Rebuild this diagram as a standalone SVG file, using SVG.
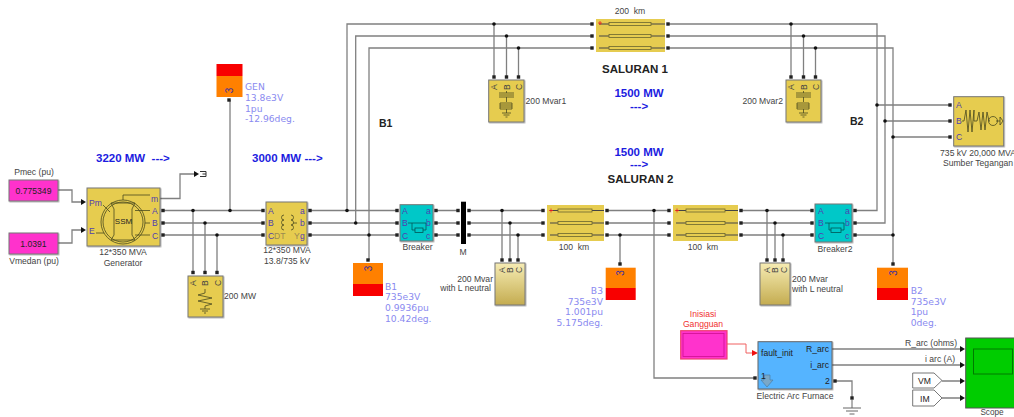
<svg xmlns="http://www.w3.org/2000/svg" width="1014" height="417" viewBox="0 0 1014 417">
<style>
text{font-family:"Liberation Sans",Arial,sans-serif;font-size:8.6px;fill:#444}
.m{text-anchor:middle}.e{text-anchor:end}
.bk{fill:#222}
.mw{font-size:11.5px;font-weight:bold;fill:#1c1ce0;white-space:pre}
.ttl{font-size:11.5px;font-weight:bold;fill:#222}
.bus{font-family:"DejaVu Sans",sans-serif;font-size:9.2px;fill:#8a8af0}
.pn{font-size:8.6px;fill:#4a4a4a}
.pu{fill:#5040b0}
.three{font-size:10px;fill:#4030a0;text-anchor:middle}
.w{fill:none;stroke:#808080;stroke-width:1.3}
.y{fill:#e6cc50;stroke:#777;stroke-width:1;filter:url(#sh)}
.c{fill:#00c8c8;stroke:#777;stroke-width:1;filter:url(#sh)}
.ln{fill:#e6cc50}
.n{fill:#ff33cc;stroke:#777;stroke-width:1;filter:url(#sh)}
.lg{fill:url(#g);stroke:#777;stroke-width:1;filter:url(#sh)}
.ic{fill:none;stroke:#4a4a20;stroke-width:.8}
</style>
<defs>
<filter id="sh" x="-10%" y="-10%" width="125%" height="125%"><feDropShadow dx="0.8" dy="0.8" stdDeviation="0.5" flood-color="#000" flood-opacity="0.35"/></filter>
<linearGradient id="g" x1="0" y1="0" x2="0" y2="1"><stop offset="0" stop-color="#f6ecb4"/><stop offset="1" stop-color="#c4ac50"/></linearGradient>
<rect id="p" x="-1.7" y="-1.7" width="3.4" height="3.4" fill="#222"/>
<circle id="o" r="1.8" fill="#111"/>
<path id="a" d="M-5-3 L0 0 L-5 3Z" fill="#111"/>
</defs>

<g id="connectors">
<path class="w" d="M58 190H72V202H81M58 243H72V230H81M160 198.500H180V174H194"/>
<path class="w" d="M163 210.500H263M163 223H263M163 235H263M193 210.500V272M205 223V272M217 235V272M230 100V210.500"/>
<path class="w" d="M310 210.500H397M310 223H397M310 235H397M347 210.500V24H592M355.700 223V36H592M369 235V48H592M369 235V260M436 210.500H458M436 223H458M436 235H458"/>
<path class="w" d="M469 210.500H543M469 223H543M469 235H543M502 210.500V260M510 223V260M518 235V260M607 210.500H669M607 223H669M607 235H669M620 235V264M654 210.500V378H755"/>
<path class="w" d="M741 210.500H812M741 223H812M741 235H812M767 210.500V260M775 223V260M783 235V260"/>
<path class="w" d="M668 24H877V210.500H855M668 36H885V223H855M668 48H893V235H855M893 235V264M877 105H950M885 121H950M893 137H950M494 24V77M506.500 36V77M518.500 48V77M791 24V77M803.500 36V77M815.500 48V77"/>
<path fill="none" stroke="#f06060" stroke-width="1" d="M727 344H746V353H752"/>
<path class="w" d="M832 349H960M832 365H960M942 381H960M942 398H960M836 381H852V398"/>
<g>
<use href="#a" x="86" y="202"/><use href="#a" x="86" y="230"/><use href="#a" x="199" y="174"/>
<use href="#a" x="965" y="349"/><use href="#a" x="965" y="365"/><use href="#a" x="965" y="381"/><use href="#a" x="965" y="398"/>
<path d="M752 350 L758 353 L752 356Z" fill="#f01010"/>
</g>
<g>
<use href="#o" x="193" y="210.500"/><use href="#o" x="205" y="223"/><use href="#o" x="217" y="235"/><use href="#o" x="230" y="210.500"/>
<use href="#o" x="347" y="210.500"/><use href="#o" x="355.700" y="223"/><use href="#o" x="369" y="235"/>
<use href="#o" x="502" y="210.500"/><use href="#o" x="510" y="223"/><use href="#o" x="518" y="235"/>
<use href="#o" x="620" y="235"/><use href="#o" x="654" y="210.500"/>
<use href="#o" x="767" y="210.500"/><use href="#o" x="775" y="223"/><use href="#o" x="783" y="235"/>
<use href="#o" x="893" y="235"/><use href="#o" x="877" y="105"/><use href="#o" x="885" y="121"/><use href="#o" x="893" y="137"/>
<use href="#o" x="494" y="24"/><use href="#o" x="506.500" y="36"/><use href="#o" x="518.500" y="48"/>
<use href="#o" x="791" y="24"/><use href="#o" x="803.500" y="36"/><use href="#o" x="815.500" y="48"/>
</g>
</g>

<g id="pmec"><rect class="n" x="9" y="180" width="49" height="21"/><text class="m bk" x="33.500" y="193.500">0.775349</text><text class="m" x="34" y="175">Pmec (pu)</text></g>
<g id="vmedan"><rect class="n" x="9" y="233" width="49" height="21"/><text class="m bk" x="33.500" y="246.500">1.0391</text><text class="m" x="34" y="264">Vmedan (pu)</text></g>

<g id="generator">
<rect class="y" x="87" y="188" width="73" height="58"/>
<circle class="ic" cx="123" cy="222" r="22"/><circle class="ic" cx="123" cy="222" r="20"/>
<path class="ic" d="M111 203 H135 L132 209 V235 L135 240 H111 L114 235 V209Z"/>
<path class="ic" d="M123 200V195H150M135 210.500H150M145 223H150M135 235H150M103 205L110 212M96 233H104"/>
<text class="m bk" x="123.500" y="224" style="font-size:8px">SSM</text>
<text class="pn pu" x="89" y="206">Pm</text><text class="pn pu" x="89" y="234">E</text>
<text class="pn pu" x="151" y="201.500">m</text><text class="pn pu" x="152" y="214">A</text><text class="pn pu" x="152" y="226">B</text><text class="pn pu" x="152" y="238.500">C</text>
<use href="#p" x="163" y="210.500"/><use href="#p" x="163" y="223"/><use href="#p" x="163" y="235"/>
<text class="m" x="123" y="255">12*350 MVA</text><text class="m" x="123" y="266">Generator</text>
</g>

<g id="m-goto"><path d="M200 171.500H206V176.500H200M202.500 174H206" fill="none" stroke="#333" stroke-width="1"/></g>

<g id="load-200mw">
<rect class="y" x="188" y="276" width="35" height="41"/>
<g class="pn"><text transform="translate(196,286) rotate(-90)">A</text><text transform="translate(208,286) rotate(-90)">B</text><text transform="translate(220.500,286) rotate(-90)">C</text></g>
<path class="ic" d="M205 289V293L198 295L212 298L198 301L212 304L205 306V309M200 309H210M202 311H208M204 313H206"/>
<use href="#p" x="193" y="272.500"/><use href="#p" x="205" y="272.500"/><use href="#p" x="217" y="272.500"/>
<text x="224" y="299">200 MW</text>
</g>

<g id="gen-bus">
<rect x="216.500" y="64" width="26" height="12" fill="#f80000"/><rect x="216.500" y="76" width="26" height="21" fill="#ff8000"/>
<text class="three" transform="translate(232.500,90.500) rotate(-90)">3</text>
<use href="#p" x="229" y="100"/>
<text class="bus" x="245" y="90">GEN</text><text class="bus" x="245" y="101">13.8e3V</text><text class="bus" x="245" y="112">1pu</text><text class="bus" x="245" y="122">-12.96deg.</text>
</g>

<g id="transformer">
<rect class="y" x="266" y="202" width="41" height="43"/>
<path class="ic" d="M284 215a2.500 2.500 0 0 0 0 5a2.500 2.500 0 0 0 0 5a2.500 2.500 0 0 0 0 5M291 215a2.500 2.500 0 0 1 0 5a2.500 2.500 0 0 1 0 5a2.500 2.500 0 0 1 0 5M293 223H297"/>
<text class="pn pu" x="268" y="214">A</text><text class="pn pu" x="268" y="226">B</text><text class="pn pu" x="268" y="238.500">C</text>
<text class="pn" x="274" y="238.500" style="fill:#9a8a50">DT</text><text class="pn" x="294" y="238.500" style="fill:#9a8a50">Y</text>
<text class="pn pu" x="300" y="214">a</text><text class="pn pu" x="300" y="226">b</text><text class="pn pu" x="300" y="238.500">g</text>
<use href="#p" x="263" y="210.500"/><use href="#p" x="263" y="223"/><use href="#p" x="263" y="235"/><use href="#p" x="310" y="210.500"/><use href="#p" x="310" y="223"/><use href="#p" x="310" y="235"/>
<text class="m" x="287" y="253">12*350 MVA</text><text class="m" x="287" y="264">13.8/735 kV</text>
</g>

<g id="breaker">
<rect class="c" x="400" y="204.700" width="33" height="36.300"/>
<path class="ic" d="M408 223H412V230H415M423 230H426V223M412 223H426" style="stroke:#055"/><rect class="ic" x="415" y="228" width="8" height="4.500" style="stroke:#055"/>
<text class="pn pu" x="402" y="214">A</text><text class="pn pu" x="402" y="226">B</text><text class="pn pu" x="402" y="238.500">C</text><text class="pn pu" x="426" y="214">a</text><text class="pn pu" x="426" y="226">b</text><text class="pn pu" x="426" y="238.500">c</text>
<use href="#p" x="397" y="210.500"/><use href="#p" x="397" y="223"/><use href="#p" x="397" y="235"/><use href="#p" x="436" y="210.500"/><use href="#p" x="436" y="223"/><use href="#p" x="436" y="235"/>
<text class="m" x="417.500" y="250">Breaker</text>
</g>

<g id="measure-m">
<rect x="461" y="201.700" width="5" height="42.300" fill="#000"/>
<use href="#p" x="458" y="210.500"/><use href="#p" x="458" y="223"/><use href="#p" x="458" y="235"/><use href="#p" x="469" y="210.500"/><use href="#p" x="469" y="223"/><use href="#p" x="469" y="235"/>
<text class="m" x="463" y="254.500">M</text>
</g>

<g id="b1-bus">
<rect x="353" y="263" width="30" height="21" fill="#ff8000"/><rect x="353" y="284" width="30" height="12" fill="#f80000"/>
<text class="three" transform="translate(371.500,268.500) rotate(-90)">3</text>
<use href="#p" x="368" y="260"/>
<text class="bus" x="385" y="290">B1</text><text class="bus" x="385" y="300">735e3V</text><text class="bus" x="385" y="311">0.9936pu</text><text class="bus" x="385" y="322">10.42deg.</text>
</g>

<g id="shunt-l1">
<rect class="lg" x="495" y="263" width="30" height="42"/>
<g class="pn"><text transform="translate(505,273) rotate(-90)">A</text><text transform="translate(513,273) rotate(-90)">B</text><text transform="translate(521.500,273) rotate(-90)">C</text></g>
<use href="#p" x="502" y="260"/><use href="#p" x="510" y="260"/><use href="#p" x="518" y="260"/>
<text class="e" x="493" y="282">200 Mvar</text><text class="e" x="491" y="291">with L neutral</text>
</g>

<g id="line-100a">
<rect class="ln" x="547" y="205" width="57" height="36"/>
<path stroke="#444" stroke-width="1" d="M550 210.500H604M550 223H604M550 235H604"/>
<g fill="#e6cc50" stroke="#6a6530" stroke-width=".8"><rect x="558" y="209" width="34" height="3"/><rect x="558" y="221.500" width="34" height="3"/><rect x="558" y="233.500" width="34" height="3"/></g>
<path d="M549 210.500h4M551 208.500v4" stroke="#f02020" stroke-width=".8"/>
<use href="#p" x="543" y="210.500"/><use href="#p" x="543" y="223"/><use href="#p" x="543" y="235"/><use href="#p" x="607" y="210.500"/><use href="#p" x="607" y="223"/><use href="#p" x="607" y="235"/>
<text class="m" x="574" y="250" style="white-space:pre">100  km</text>
</g>

<g id="b3-bus">
<rect x="605.700" y="267.700" width="30" height="20.300" fill="#ff8000"/><rect x="605.700" y="288" width="30" height="12" fill="#f80000"/>
<text class="three" transform="translate(624,273) rotate(-90)">3</text>
<use href="#p" x="620" y="264"/>
<g text-anchor="end"><text class="bus" x="603" y="294">B3</text><text class="bus" x="603" y="304.500">735e3V</text><text class="bus" x="603" y="315">1.001pu</text><text class="bus" x="603" y="326">5.175deg.</text></g>
</g>

<g id="line-100b">
<rect class="ln" x="673" y="205" width="65" height="36"/>
<path stroke="#444" stroke-width="1" d="M676 210.500H738M676 223H738M676 235H738"/>
<g fill="#e6cc50" stroke="#6a6530" stroke-width=".8"><rect x="686" y="209" width="39" height="3"/><rect x="686" y="221.500" width="39" height="3"/><rect x="686" y="233.500" width="39" height="3"/></g>
<path d="M675 210.500h4M677 208.500v4" stroke="#f02020" stroke-width=".8"/>
<use href="#p" x="669" y="210.500"/><use href="#p" x="669" y="223"/><use href="#p" x="669" y="235"/><use href="#p" x="741" y="210.500"/><use href="#p" x="741" y="223"/><use href="#p" x="741" y="235"/>
<text class="m" x="703" y="250" style="white-space:pre">100  km</text>
</g>

<g id="shunt-l2">
<rect class="lg" x="760" y="263" width="30" height="42"/>
<g class="pn"><text transform="translate(770,273) rotate(-90)">A</text><text transform="translate(778,273) rotate(-90)">B</text><text transform="translate(786.500,273) rotate(-90)">C</text></g>
<use href="#p" x="767" y="260"/><use href="#p" x="775" y="260"/><use href="#p" x="783" y="260"/>
<text x="792" y="282">200 Mvar</text><text x="792" y="292">with L neutral</text>
</g>

<g id="breaker2">
<rect class="c" x="815" y="204" width="37" height="38"/>
<path class="ic" d="M825 223H829V230H831M841 230H844V223M829 223H844" style="stroke:#055"/><rect class="ic" x="831" y="228" width="10" height="4.500" style="stroke:#055"/>
<text class="pn pu" x="818" y="214">A</text><text class="pn pu" x="818" y="226">B</text><text class="pn pu" x="818" y="238.500">C</text><text class="pn pu" x="845" y="214">a</text><text class="pn pu" x="845" y="226">b</text><text class="pn pu" x="845" y="238.500">c</text>
<use href="#p" x="812" y="210.500"/><use href="#p" x="812" y="223"/><use href="#p" x="812" y="235"/><use href="#p" x="855" y="210.500"/><use href="#p" x="855" y="223"/><use href="#p" x="855" y="235"/>
<text class="m" x="835" y="252">Breaker2</text>
</g>

<g id="b2-bus">
<rect x="877" y="267.700" width="31" height="20.300" fill="#ff8000"/><rect x="877" y="288" width="31" height="12" fill="#f80000"/>
<text class="three" transform="translate(896.500,273) rotate(-90)">3</text>
<use href="#p" x="893" y="264"/>
<text class="bus" x="910.700" y="294">B2</text><text class="bus" x="910.700" y="304.500">735e3V</text><text class="bus" x="910.700" y="315">1pu</text><text class="bus" x="910.700" y="326">0deg.</text>
</g>

<g id="line-200">
<rect class="ln" x="596" y="19" width="69" height="33"/>
<path stroke="#444" stroke-width="1" d="M599 24H665M599 36H665M599 48H665"/>
<g fill="#e6cc50" stroke="#6a6530" stroke-width=".8"><rect x="609" y="22.500" width="42" height="3"/><rect x="609" y="34.500" width="42" height="3"/><rect x="609" y="46.500" width="42" height="3"/></g>
<path d="M598 23h4M600 21v4" stroke="#f02020" stroke-width=".8"/>
<use href="#p" x="592" y="24"/><use href="#p" x="592" y="36"/><use href="#p" x="592" y="48"/><use href="#p" x="668" y="24"/><use href="#p" x="668" y="36"/><use href="#p" x="668" y="48"/>
<text class="m" x="630" y="14" style="white-space:pre">200  km</text>
</g>

<g id="mvar1">
<rect class="y" x="488.700" y="80" width="35.300" height="42"/>
<g class="pn"><text transform="translate(497,90) rotate(-90)">A</text><text transform="translate(509.500,90) rotate(-90)">B</text><text transform="translate(521.500,90) rotate(-90)">C</text></g>
<path class="ic" d="M506.500 91V93M499 93H514M499 95H514M499 97H514M506.500 97V102M500 103H512V109H500ZM500 105H512M500 107H512M506.500 109V113M502 113H511M503.500 115H509.500M505.500 117H507.500"/>
<use href="#p" x="494" y="77"/><use href="#p" x="506.500" y="77"/><use href="#p" x="518.500" y="77"/>
<text x="525.600" y="104">200 Mvar1</text>
</g>

<g id="mvar2">
<rect class="y" x="786" y="80" width="35" height="42"/>
<g class="pn"><text transform="translate(794,90) rotate(-90)">A</text><text transform="translate(806.500,90) rotate(-90)">B</text><text transform="translate(818.500,90) rotate(-90)">C</text></g>
<path class="ic" d="M803.500 91V93M796 93H811M796 95H811M796 97H811M803.500 97V102M797 103H809V109H797ZM797 105H809M797 107H809M803.500 109V113M799 113H808M800.500 115H806.500M802.500 117H804.500"/>
<use href="#p" x="791" y="77"/><use href="#p" x="803.500" y="77"/><use href="#p" x="815.500" y="77"/>
<text class="e" x="783" y="104">200 Mvar2</text>
</g>

<g id="source">
<rect class="y" x="953.700" y="96.700" width="50" height="49.300"/>
<path class="ic" d="M962 121H964L966 110L968 132L970 110L972 132L974 110V121H977L979 112L981 130L983 112L985 130L987 112L989 121H990M996 121H1000M1000 117L1003 121L1000 125Z"/>
<circle class="ic" cx="993" cy="121" r="4.500"/>
<text class="pn pu" x="956" y="108">A</text><text class="pn pu" x="956" y="124">B</text><text class="pn pu" x="956" y="140">C</text>
<use href="#p" x="950" y="105"/><use href="#p" x="950" y="121"/><use href="#p" x="950" y="137"/>
<text class="m" x="978" y="156">735 kV 20,000 MVA</text><text class="m" x="978" y="166">Sumber Tegangan</text>
</g>

<g id="inisiasi">
<rect x="680.700" y="330.700" width="46.300" height="28.300" fill="#ff33cc" stroke="#f04070" stroke-width="1.200"/>
<rect x="683" y="333.500" width="41" height="23" fill="none" stroke="#d01090" stroke-width=".8"/>
<text class="m" x="703" y="317" style="fill:#f03030">Inisiasi</text><text class="m" x="703" y="327" style="fill:#f03030">Gangguan</text>
</g>

<g id="arc-furnace">
<rect x="758" y="341.700" width="74" height="47.300" fill="#55b4ff" stroke="#666" stroke-width="1" filter="url(#sh)"/>
<path d="M764 375H770V380H773L767 387L761 380H764Z" fill="#7aa8c8" stroke="#4a80a8" stroke-width=".7"/>
<text class="bk" x="761" y="356">fault_init</text><text class="bk e" x="829" y="352">R_arc</text><text class="bk e" x="829" y="368">i_arc</text><text class="bk" x="825" y="384">2</text><text class="bk" x="761" y="379">1</text>
<use href="#p" x="755" y="378"/><use href="#p" x="835" y="381"/>
<text class="m" x="795" y="399">Electric Arc Furnace</text>
</g>

<g id="ground">
<use href="#p" x="852" y="398"/>
<path d="M843 408H861M846 411H858M849.500 414H854.500M852 400V408" stroke="#666" stroke-width="1" fill="none"/>
</g>

<g id="vm"><path d="M912.700 373H934L942 380.500L934 388H912.700Z" fill="#fff" stroke="#777" stroke-width="1"/><text class="bk" x="918" y="384">VM</text></g>
<g id="im"><path d="M912.700 390H934L942 398L934 406H912.700Z" fill="#fff" stroke="#777" stroke-width="1"/><text class="bk" x="920" y="401.500">IM</text></g>

<g id="scope">
<rect x="965.700" y="338" width="50" height="70" fill="#00cc00" stroke="#555" stroke-width="1"/>
<rect x="973.500" y="349" width="39" height="25" fill="none" stroke="#007a00" stroke-width="1"/>
<text class="m" x="992" y="415" style="font-size:8.200px">Scope</text>
</g>

<g id="labels">
<text class="mw" x="96" y="162">3220 MW  ---&gt;</text>
<text class="mw" x="252" y="162">3000 MW ---&gt;</text>
<text class="ttl m" x="635" y="73">SALURAN 1</text>
<text class="mw m" x="639" y="97">1500 MW</text><text class="mw m" x="639" y="110">---&gt;</text>
<text class="mw m" x="639" y="156">1500 MW</text><text class="mw m" x="639" y="168">---&gt;</text>
<text class="ttl m" x="640.500" y="183">SALURAN 2</text>
<text class="ttl" x="379" y="127" style="font-size:10.500px">B1</text>
<text class="ttl" x="850" y="125" style="font-size:10.500px">B2</text>
<text class="m" x="931" y="346">R_arc (ohms)</text><text class="m" x="940" y="362">i arc (A)</text>
</g>
</svg>
